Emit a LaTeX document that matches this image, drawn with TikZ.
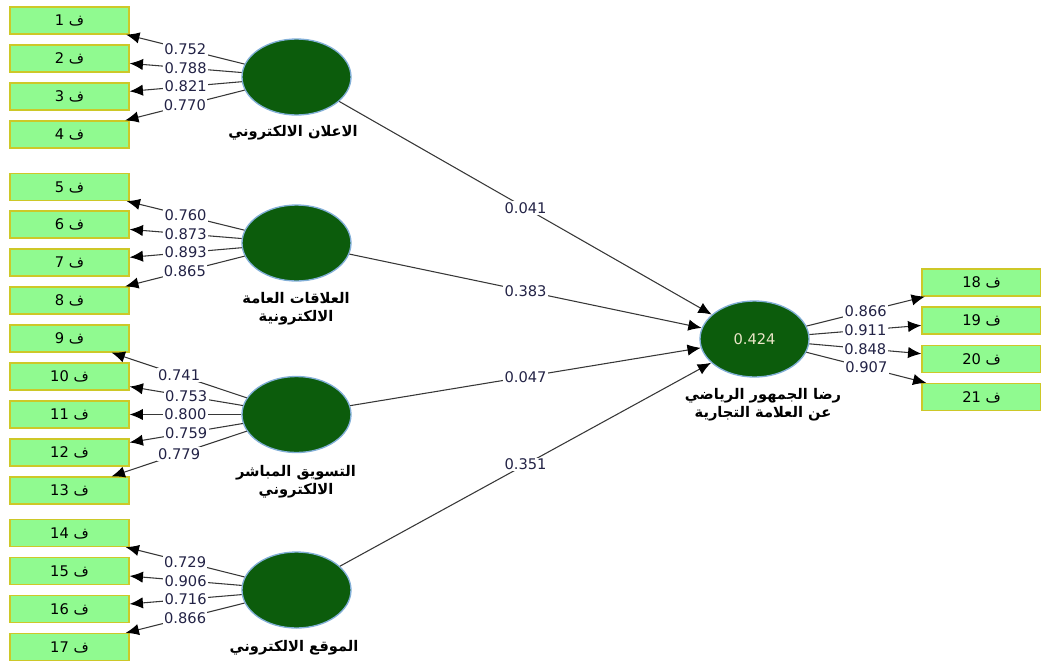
\documentclass[tikz,border=0pt]{standalone}
\usepackage{fontspec}
\setmainfont{DejaVu Sans}
\newfontfamily\arabicfont[Script=Arabic]{DejaVu Sans}
\TeXXeTstate=1
\usetikzlibrary{shapes.geometric,arrows.meta}
\definecolor{boxfill}{RGB}{144,250,144}
\definecolor{boxline}{RGB}{205,200,40}
\definecolor{latfill}{RGB}{12,92,12}
\definecolor{latline}{RGB}{130,175,215}
\definecolor{numcol}{RGB}{35,35,70}
\definecolor{linecol}{RGB}{55,55,55}
\tikzset{
  ind/.style={draw=boxline, line width=0.9pt, fill=boxfill, minimum width=89.25pt, minimum height=20.25pt, inner sep=0pt, font=\fontsize{11}{13}\selectfont},
  lat/.style={ellipse, draw=latline, line width=1pt, fill=latfill, minimum width=81.75pt, minimum height=57pt, inner sep=0pt},
  latlbl/.style={align=center, font=\fontsize{11}{13.5}\selectfont\arabicfont\bfseries, inner sep=0pt},
  lbl/.style={fill=white, inner sep=1pt, text=numcol, font=\fontsize{11}{13}\selectfont},
  load/.style={draw=linecol, line width=0.8pt, -{Latex[length=10pt,width=8.5pt,color=black]}},
}
\begin{document}
\begin{tikzpicture}[x=0.75pt,y=-0.75pt]
\useasboundingbox (0,0) rectangle (1041,664);
% latent variables
\node[lat] (e1) at (296.5,77) {};
\node[lat] (e2) at (296.5,243) {};
\node[lat] (e3) at (296.5,414.5) {};
\node[lat] (e4) at (296.5,590) {};
\node[lat, text={rgb,255:red,235;green,230;blue,200}, font=\fontsize{11}{13}\selectfont] (e5) at (754.5,339) {0.424};
% latent labels
\node[latlbl] (t1) at (293,133) {\beginR الاعلان الالكتروني\endR};
\node[latlbl] (t2) at (296,309) {\beginR العلاقات العامة\endR\\\beginR الالكترونية\endR};
\node[latlbl] (t3) at (296,482) {\beginR التسويق المباشر\endR\\\beginR الالكتروني\endR};
\node[latlbl] (t4) at (294,648) {\beginR الموقع الالكتروني\endR};
\node[latlbl] (t5) at (763,405) {\beginR رضا الجمهور الرياضي\endR\\\beginR عن العلامة التجارية\endR};
% indicators
\foreach \n/\y in {1/20.5,2/58.5,3/96.5,4/134.5,5/187,6/224.5,7/262.5,8/300.5,9/338.5,10/376.5,11/414.5,12/452.5,13/490.5,14/533,15/571,16/609,17/647}{
  \node[ind] (f\n) at (69.5,\y) {\arabicfont\beginR ف \beginL\n\endL\endR};
}
\foreach \n/\y in {18/282.5,19/320.5,20/359,21/397}{
  \node[ind] (f\n) at (981.5,\y) {\arabicfont\beginR ف \beginL\n\endL\endR};
}
% loadings
\foreach \e/\f/\v in {e1/f1/0.752,e1/f2/0.788,e1/f3/0.821,e1/f4/0.770,
  e2/f5/0.760,e2/f6/0.873,e2/f7/0.893,e2/f8/0.865,
  e3/f9/0.741,e3/f10/0.753,e3/f11/0.800,e3/f12/0.759,e3/f13/0.779,
  e4/f14/0.729,e4/f15/0.906,e4/f16/0.716,e4/f17/0.866,
  e5/f18/0.866,e5/f19/0.911,e5/f20/0.848,e5/f21/0.907}{
  \draw[load] (\e) -- node[lbl]{\v} (\f);
}
% paths
\draw[load] (e1) -- node[lbl]{0.041} (e5);
\draw[load] (e2) -- node[lbl]{0.383} (e5);
\draw[load] (e3) -- node[lbl]{0.047} (e5);
\draw[load] (e4) -- node[lbl]{0.351} (e5);
\end{tikzpicture}
\end{document}
